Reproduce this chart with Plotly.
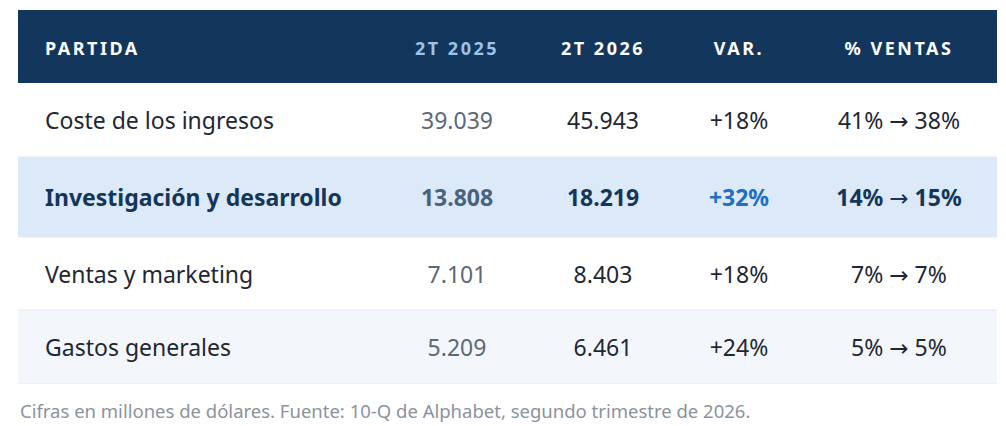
import plotly.graph_objects as go

# table data
partidas = ["Coste de los ingresos", "Investigación y desarrollo",
            "Ventas y marketing", "Gastos generales"]
t2_2025 = ["39.039", "13.808", "7.101", "5.209"]
t2_2026 = ["45.943", "18.219", "8.403", "6.461"]
variacion = ["+18%", "+32%", "+18%", "+24%"]
pct_ventas = ["41% → 38%", "14% → 15%", "7% → 7%", "5% → 5%"]
headers = ["PARTIDA", "2T 2025", "2T 2026", "VAR.", "% VENTAS"]
destacada = 1  # fila resaltada (I+D)

# layout of the table (px inside the plot area)
TABLE_W = 979
row_h = [73, 74, 80, 73, 74]          # header + 4 filas
col_x = [27, 439, 585, 721, 881]      # 1a col: borde izq, resto: centro
row_fill = ["#13365c", "#ffffff", "#dce9f8", "#ffffff", "#f3f7fc"]
TEXT_DY = 3.5                         # texto algo por debajo del centro

NAVY = "#14365a"
BODY = "#1e2733"
GREY = "#5d6877"
FONT = "Noto Sans"

# row centres / bottoms
centres, bottoms, acc = [], [], 0
for h in row_h:
    centres.append(acc + h / 2)
    acc += h
    bottoms.append(acc)

fig = go.Figure()

# row backgrounds
fig.add_trace(go.Bar(
    orientation="h", y=centres, x=[TABLE_W] * len(row_h), base=0,
    width=row_h, marker=dict(color=row_fill, line_width=0),
    hoverinfo="skip", showlegend=False,
))

# separators under the body rows
for b in bottoms[1:]:
    fig.add_shape(type="line", x0=0, x1=TABLE_W, y0=b, y1=b,
                  xref="x", yref="y", line=dict(color="#e3eaf3", width=1),
                  layer="above")


def head(txt):
    return f'<span style="letter-spacing:2.5px"><b>{txt}</b></span>'


def arrow_font(txt):
    # the Noto arrow is small and sits low; DejaVu's is closer to the original
    return txt.replace("→", '<span style="font-family:DejaVu Sans;font-weight:normal">→</span>')


columns = [partidas, t2_2025, t2_2026, variacion, pct_ventas]
head_colors = ["white", "#9cc3e8", "white", "white", "white"]
body_colors = [
    [NAVY if i == destacada else BODY for i in range(4)],
    ["#48627f" if i == destacada else GREY for i in range(4)],
    [NAVY if i == destacada else BODY for i in range(4)],
    ["#1f6fc5" if i == destacada else BODY for i in range(4)],
    [NAVY if i == destacada else BODY for i in range(4)],
]

for j, vals in enumerate(columns):
    texts = [head(headers[j])] + [
        f"<b>{arrow_font(v)}</b>" if i == destacada else arrow_font(v)
        for i, v in enumerate(vals)]
    fig.add_trace(go.Scatter(
        x=[col_x[j]] * len(texts), y=[c + TEXT_DY for c in centres],
        text=texts, mode="text",
        textposition="middle right" if j == 0 else "middle center",
        textfont=dict(family=FONT, size=[18] + [23] * 4,
                      color=[head_colors[j]] + body_colors[j]),
        hoverinfo="skip", showlegend=False, cliponaxis=False,
    ))

fig.add_annotation(
    text="Cifras en millones de dólares. Fuente: 10-Q de Alphabet, segundo trimestre de 2026.",
    xref="paper", yref="paper", x=0, y=-0.072, xanchor="left", yanchor="middle",
    showarrow=False, font=dict(family=FONT, size=18.5, color="#8a939e"),
)

fig.update_xaxes(range=[0, TABLE_W], visible=False, fixedrange=True)
fig.update_yaxes(range=[sum(row_h), 0], visible=False, fixedrange=True)
fig.update_layout(
    width=1006, height=426,
    margin=dict(l=10, r=17, t=2, b=50),
    paper_bgcolor="white", plot_bgcolor="white",
    bargap=0, showlegend=False,
)

fig.write_html("out.html")
